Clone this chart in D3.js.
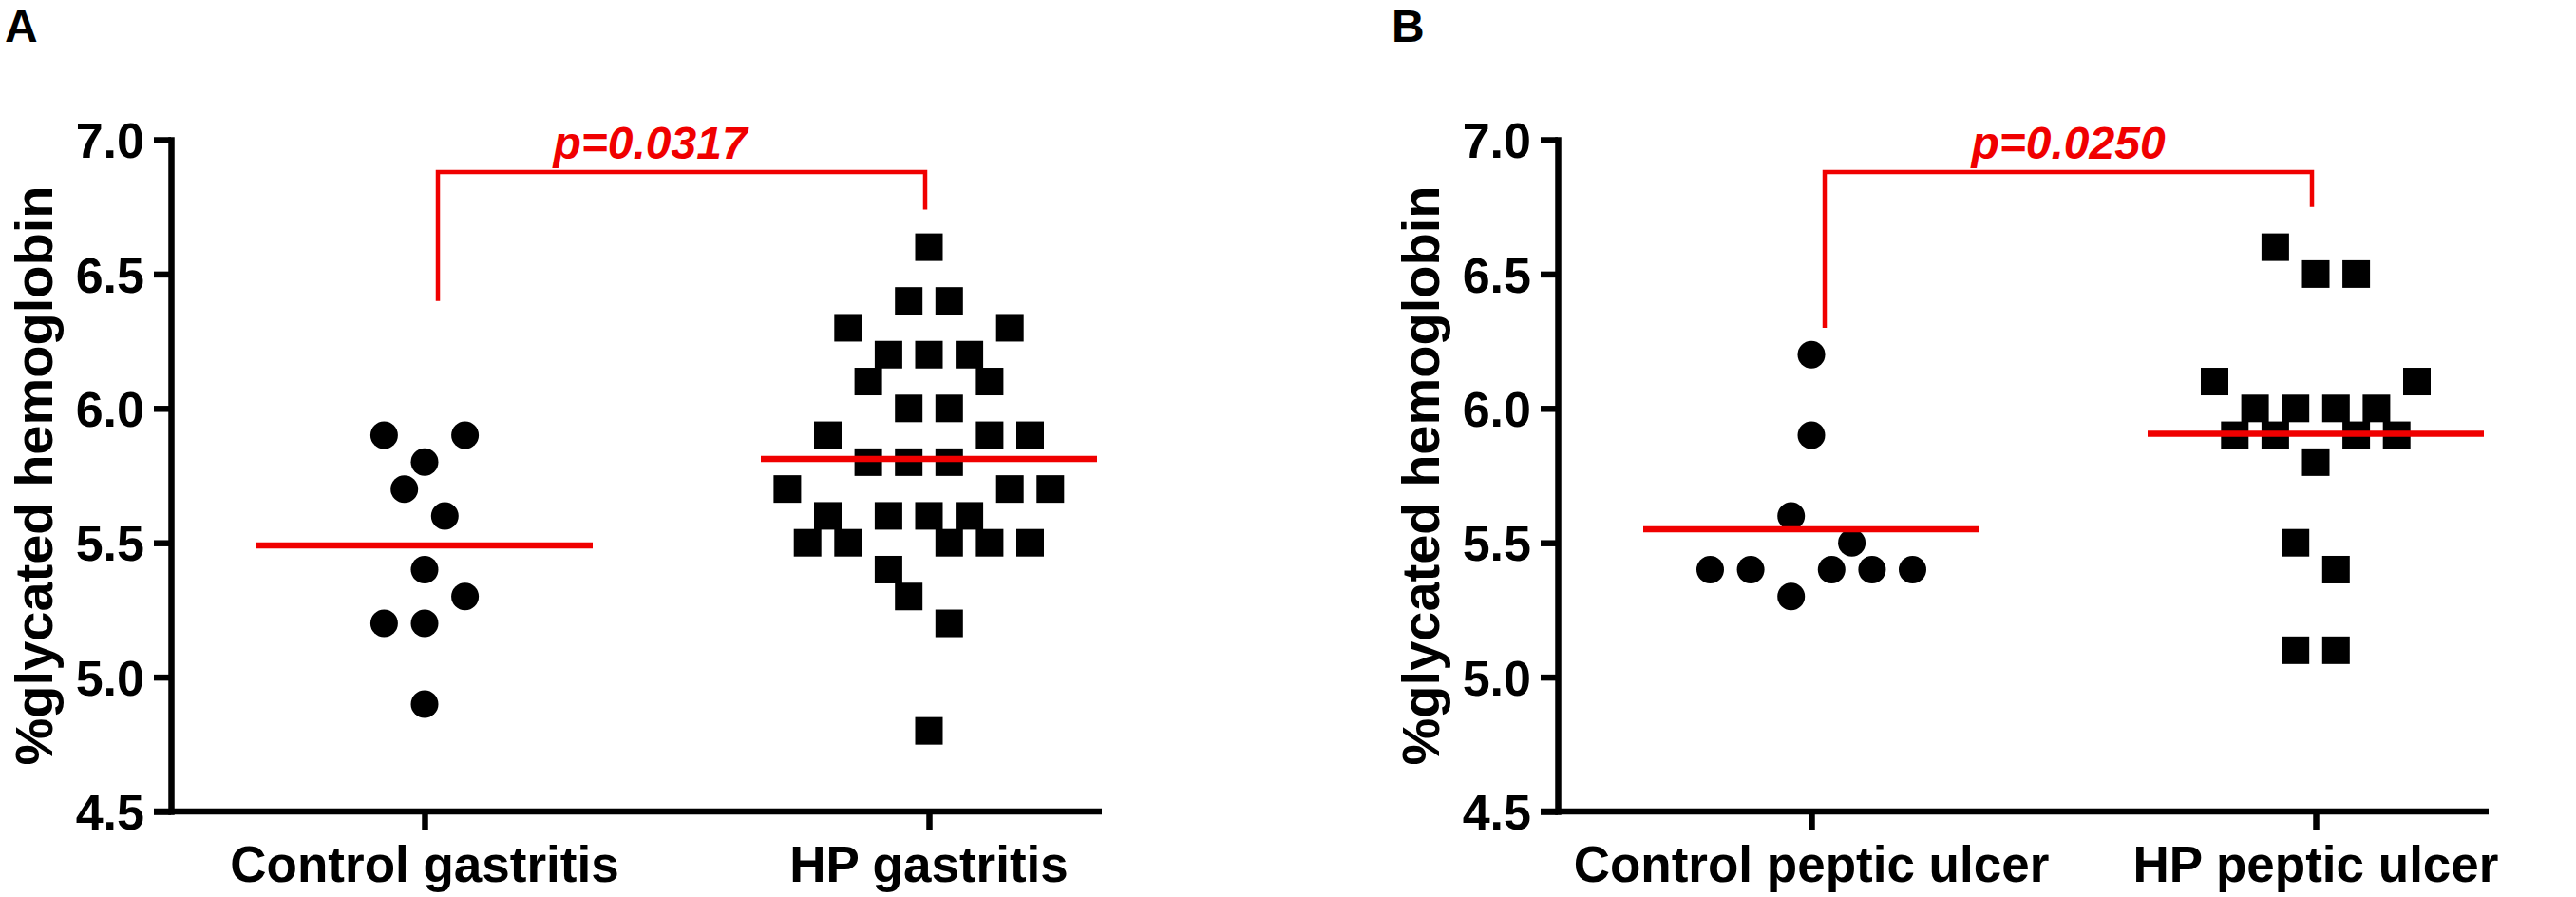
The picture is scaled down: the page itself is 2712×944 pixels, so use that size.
<!DOCTYPE html>
<html>
<head>
<meta charset="utf-8">
<script src="https://cdn.jsdelivr.net/npm/d3@7"></script>
<style>
  body { margin: 0; background: #fff; }
  text { font-family: "Liberation Sans", Arial, sans-serif; font-weight: bold; fill: #000; }
</style>
</head>
<body>
<div id="chart"></div>
<script>
// ---- data ----
// Panel A
const gastritisGroups = ["Control gastritis", "HP gastritis"];
const controlGastritis = [5.9, 5.9, 5.8, 5.7, 5.6, 5.4, 5.3, 5.2, 5.2, 4.9];
// column slot of each point in the scatter (GraphPad style spread), in half-marker steps
const controlGastritisSlot = [-2, 2, 0, -1, 1, 0, 2, -2, 0, 0];
const hpGastritis = [6.6, 6.4, 6.4, 6.3, 6.3, 6.2, 6.2, 6.2, 6.1, 6.1, 6.0, 6.0,
  5.9, 5.9, 5.9, 5.8, 5.8, 5.8, 5.7, 5.7, 5.7, 5.6, 5.6, 5.6, 5.6,
  5.5, 5.5, 5.5, 5.5, 5.5, 5.4, 5.3, 5.2, 4.8];
const hpGastritisSlot = [0, -1, 1, -4, 4, -2, 0, 2, -3, 3, -1, 1,
  -5, 3, 5, -3, -1, 1, -7, 4, 6, -5, -2, 0, 2,
  -6, -4, 1, 3, 5, -2, -1, 1, 0];

// Panel B
const ulcerGroups = ["Control peptic ulcer", "HP peptic ulcer"];
const controlUlcer = [6.2, 5.9, 5.6, 5.5, 5.4, 5.4, 5.4, 5.4, 5.4, 5.3];
const controlUlcerSlot = [0, 0, -1, 2, -5, -3, 1, 3, 5, -1];
const hpUlcer = [6.6, 6.5, 6.5, 6.1, 6.1, 6.0, 6.0, 6.0, 6.0,
  5.9, 5.9, 5.9, 5.9, 5.8, 5.5, 5.4, 5.1, 5.1];
const hpUlcerSlot = [-2, 0, 2, -5, 5, -3, -1, 1, 3,
  -4, -2, 2, 4, 0, -1, 1, -1, 1];

// Axis and annotations
const yTicks = [4.5, 5.0, 5.5, 6.0, 6.5, 7.0];
const yTitle = "%glycated hemoglobin";
const panelLetters = ["A", "B"];
const pLabels = ["p=0.0317", "p=0.0250"];
const bracketTop = [6.88, 6.88];
const bracketLeftEnd = [6.40, 6.30];
const bracketRightEnd = [6.74, 6.75];

// ---- layout ----
const width = 2712, height = 944;
const panelDx = 1460;          // horizontal distance between panel A and panel B
const axisX = 180, axisRight = 1160;
const plotTop = 147, plotBottom = 854;
const firstCat = 447, lastCat = 978;
const slotStep = 21.3;          // pixels per slot
const markerSize = 29;
const meanHalf = 177;           // half width of the red mean line
const pTextShift = [-33, 0];    // the A label sits a bit left of the bracket centre

const svg = d3.select("#chart").append("svg")
  .attr("width", width)
  .attr("height", height)
  .style("background", "#fff");

const y = d3.scaleLinear().domain([4.5, 7.0]).range([plotBottom, plotTop]);
const slot = d3.scaleLinear().domain([0, 1]).range([0, slotStep]);

const panels = [
  {
    groups: gastritisGroups,
    series: [
      {values: controlGastritis, slots: controlGastritisSlot, shape: "circle"},
      {values: hpGastritis, slots: hpGastritisSlot, shape: "square"}
    ]
  },
  {
    groups: ulcerGroups,
    series: [
      {values: controlUlcer, slots: controlUlcerSlot, shape: "circle"},
      {values: hpUlcer, slots: hpUlcerSlot, shape: "square"}
    ]
  }
];

panels.forEach((panel, pi) => {
  const g = svg.append("g").attr("transform", `translate(${pi * panelDx},0)`);

  const x = d3.scalePoint().domain(panel.groups).range([firstCat, lastCat]);

  // panel letter
  g.append("text")
    .attr("x", 5)
    .attr("y", 44)
    .style("font-size", "48px")
    .text(panelLetters[pi]);

  // y axis title
  g.append("text")
    .attr("transform", `translate(55,${(plotTop + plotBottom) / 2}) rotate(-90)`)
    .attr("text-anchor", "middle")
    .style("font-size", "56px")
    .text(yTitle);

  // y axis
  const yAxis = g.append("g")
    .attr("transform", `translate(${axisX},0)`)
    .call(d3.axisLeft(y)
      .tickValues(yTicks)
      .tickFormat(d3.format(".1f"))
      .tickSize(18)
      .tickSizeOuter(0)
      .tickPadding(10));
  yAxis.select(".domain")
    .attr("stroke", "#000")
    .attr("stroke-width", 6.5)
    .attr("stroke-linecap", "square");
  yAxis.selectAll(".tick line")
    .attr("stroke", "#000")
    .attr("stroke-width", 6.5);
  yAxis.selectAll(".tick text")
    .attr("dy", "0.36em")
    .style("font-size", "52px")
    .style("font-family", "'Liberation Sans', Arial, sans-serif")
    .style("font-weight", "bold")
    .attr("fill", "#000");

  // x axis
  const xAxis = g.append("g")
    .attr("transform", `translate(0,${plotBottom})`)
    .call(d3.axisBottom(x).tickSize(19).tickSizeOuter(0).tickFormat(""));
  xAxis.select(".domain").remove();
  xAxis.selectAll(".tick line")
    .attr("stroke", "#000")
    .attr("stroke-width", 6.5);
  g.append("line")
    .attr("x1", axisX - 18)
    .attr("x2", axisRight)
    .attr("y1", plotBottom)
    .attr("y2", plotBottom)
    .attr("stroke", "#000")
    .attr("stroke-width", 6.5);

  // category labels
  g.selectAll(".cat")
    .data(panel.groups)
    .join("text")
      .attr("class", "cat")
      .attr("x", d => x(d))
      .attr("y", plotBottom + 74)
      .attr("text-anchor", "middle")
      .style("font-size", "53px")
      .text(d => d);

  // scatter points
  panel.series.forEach((s, si) => {
    const cx = x(panel.groups[si]);
    const pts = s.values.map((v, i) => ({v: v, k: s.slots[i]}));
    if (s.shape === "circle") {
      g.append("g").selectAll("circle")
        .data(pts)
        .join("circle")
          .attr("cx", d => cx + slot(d.k))
          .attr("cy", d => y(d.v))
          .attr("r", markerSize / 2)
          .attr("fill", "#000");
    } else {
      g.append("g").selectAll("rect")
        .data(pts)
        .join("rect")
          .attr("x", d => cx + slot(d.k) - markerSize / 2)
          .attr("y", d => y(d.v) - markerSize / 2)
          .attr("width", markerSize)
          .attr("height", markerSize)
          .attr("fill", "#000");
    }
  });

  // red mean lines (drawn on top of the markers)
  panel.series.forEach((s, si) => {
    const cx = x(panel.groups[si]);
    const m = d3.mean(s.values);
    g.append("line")
      .attr("x1", cx - meanHalf)
      .attr("x2", cx + meanHalf)
      .attr("y1", y(m))
      .attr("y2", y(m))
      .attr("stroke", "#f00000")
      .attr("stroke-width", 6.5);
  });

  // significance bracket
  const bx0 = x(panel.groups[0]) + 14, bx1 = x(panel.groups[1]) - 4;
  g.append("path")
    .attr("d", d3.line()([
      [bx0, y(bracketLeftEnd[pi])],
      [bx0, y(bracketTop[pi])],
      [bx1, y(bracketTop[pi])],
      [bx1, y(bracketRightEnd[pi])]
    ]))
    .attr("fill", "none")
    .attr("stroke", "#f00000")
    .attr("stroke-width", 4.5);

  g.append("text")
    .attr("x", (bx0 + bx1) / 2 + pTextShift[pi])
    .attr("y", y(bracketTop[pi]) - 14)
    .attr("text-anchor", "middle")
    .style("font-size", "48px")
    .style("font-style", "italic")
    .style("fill", "#f00000")
    .text(pLabels[pi]);
});
</script>
</body>
</html>
